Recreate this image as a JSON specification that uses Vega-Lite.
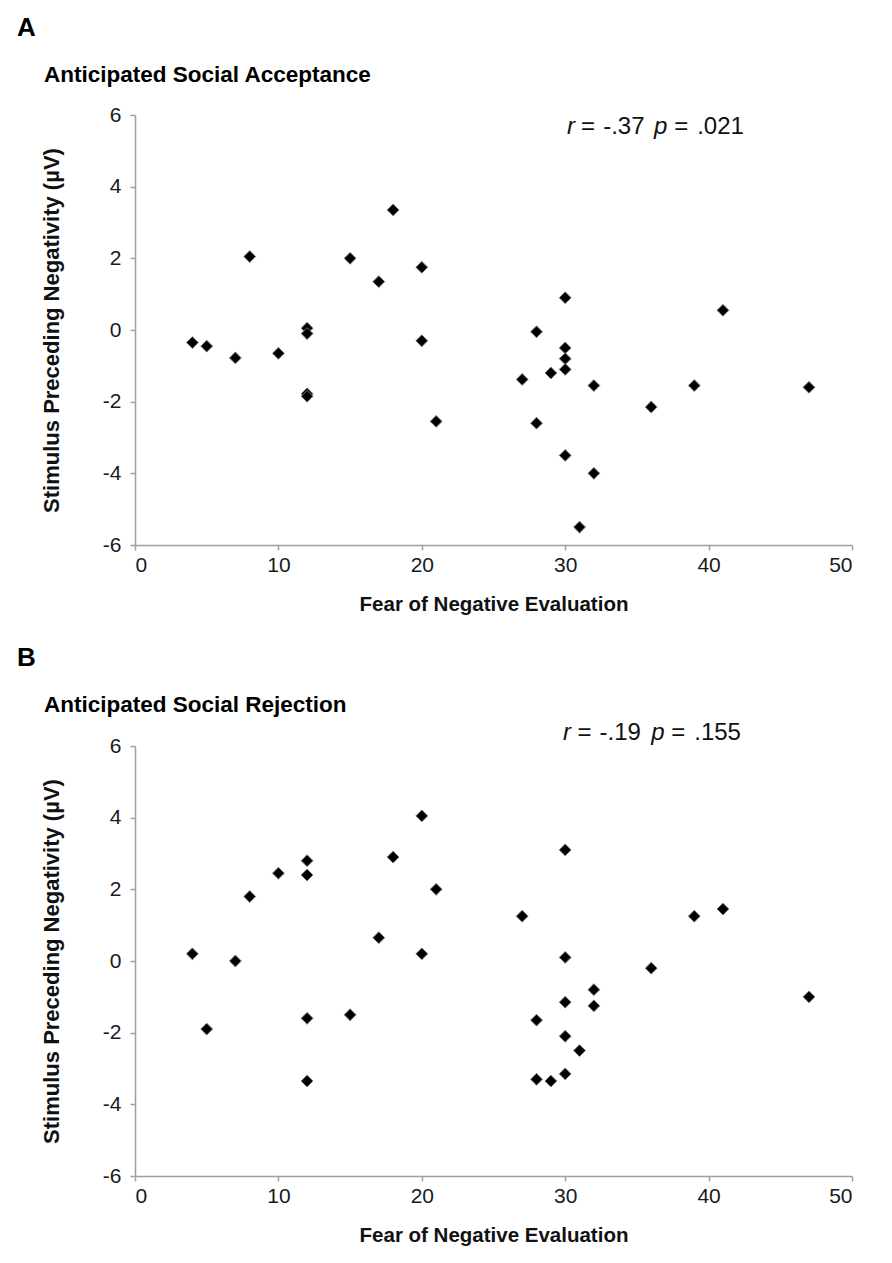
{
  "$schema": "https://vega.github.io/schema/vega-lite/v6.json",
  "background": "white",
  "padding": {"left": 17, "top": 14, "right": 10, "bottom": 10},
  "config": {
    "font": "Liberation Sans",
    "view": {"stroke": null},
    "axis": {
      "grid": false,
      "domainColor": "#a0a0a0",
      "tickColor": "#a0a0a0",
      "domainWidth": 1.5,
      "tickWidth": 1.5,
      "tickSize": 5,
      "labelFont": "Liberation Sans",
      "labelFontSize": 21,
      "labelColor": "#1a1a1a",
      "labelExpr": "'' + datum.value",
      "titleFont": "Liberation Sans",
      "titleFontWeight": "bold",
      "titleColor": "#111"
    },
    "title": {"font": "Liberation Sans", "fontSize": 26, "fontWeight": "bold", "color": "#000", "anchor": "start", "frame": "group"}
  },
  "datasets": {
    "acceptance": [
      {"fne": 4, "spn": -0.35}, {"fne": 5, "spn": -0.45}, {"fne": 7, "spn": -0.78},
      {"fne": 8, "spn": 2.05}, {"fne": 10, "spn": -0.65}, {"fne": 12, "spn": 0.05},
      {"fne": 12, "spn": -0.1}, {"fne": 12, "spn": -1.78}, {"fne": 12, "spn": -1.85},
      {"fne": 15, "spn": 2.0}, {"fne": 17, "spn": 1.35}, {"fne": 18, "spn": 3.35},
      {"fne": 20, "spn": 1.75}, {"fne": 20, "spn": -0.3}, {"fne": 21, "spn": -2.55},
      {"fne": 27, "spn": -1.38}, {"fne": 28, "spn": -0.05}, {"fne": 28, "spn": -2.6},
      {"fne": 29, "spn": -1.2}, {"fne": 30, "spn": 0.9}, {"fne": 30, "spn": -0.5},
      {"fne": 30, "spn": -0.8}, {"fne": 30, "spn": -1.1}, {"fne": 30, "spn": -3.5},
      {"fne": 31, "spn": -5.5}, {"fne": 32, "spn": -1.55}, {"fne": 32, "spn": -4.0},
      {"fne": 36, "spn": -2.15}, {"fne": 39, "spn": -1.55}, {"fne": 41, "spn": 0.55},
      {"fne": 47, "spn": -1.6}
    ],
    "rejection": [
      {"fne": 4, "spn": 0.2}, {"fne": 5, "spn": -1.9}, {"fne": 7, "spn": 0.0},
      {"fne": 8, "spn": 1.8}, {"fne": 10, "spn": 2.45}, {"fne": 12, "spn": 2.8},
      {"fne": 12, "spn": 2.4}, {"fne": 12, "spn": -1.6}, {"fne": 12, "spn": -3.35},
      {"fne": 15, "spn": -1.5}, {"fne": 17, "spn": 0.65}, {"fne": 18, "spn": 2.9},
      {"fne": 20, "spn": 4.05}, {"fne": 20, "spn": 0.2}, {"fne": 21, "spn": 2.0},
      {"fne": 27, "spn": 1.25}, {"fne": 28, "spn": -1.65}, {"fne": 28, "spn": -3.3},
      {"fne": 29, "spn": -3.35}, {"fne": 30, "spn": 3.1}, {"fne": 30, "spn": 0.1},
      {"fne": 30, "spn": -1.15}, {"fne": 30, "spn": -2.1}, {"fne": 30, "spn": -3.15},
      {"fne": 31, "spn": -2.5}, {"fne": 32, "spn": -0.8}, {"fne": 32, "spn": -1.25},
      {"fne": 36, "spn": -0.2}, {"fne": 39, "spn": 1.25}, {"fne": 41, "spn": 1.45},
      {"fne": 47, "spn": -1.0}
    ],
    "one": [{}]
  },
  "spacing": 30,
  "vconcat": [
    {
      "width": 717,
      "height": 430,
      "title": {"text": "A", "dx": -118, "offset": 23},
      "layer": [
        {
          "data": {"name": "acceptance"},
          "mark": {"type": "point", "shape": "diamond", "filled": true, "color": "black", "size": 140, "stroke": "#777", "strokeWidth": 1, "opacity": 1},
          "encoding": {
            "x": {"field": "fne", "type": "quantitative", "title": "Fear of Negative Evaluation",
                  "scale": {"domain": [0, 50], "nice": false, "zero": false},
                  "axis": {"values": [0, 10, 20, 30, 40, 50], "labelFontSize": 21, "labelPadding": 4, "titlePadding": 19, "titleFontSize": 20.5}},
            "y": {"field": "spn", "type": "quantitative", "title": "Stimulus Preceding Negativity (µV)",
                  "scale": {"domain": [-6, 6], "nice": false},
                  "axis": {"values": [-6, -4, -2, 0, 2, 4, 6], "labelFontSize": 21, "labelPadding": 9, "titlePadding": 39, "titleFontSize": 22}}
          }
        },
        {"data": {"name": "one"},
         "mark": {"type": "text", "fontSize": 22.5, "fontWeight": "bold", "align": "left", "baseline": "middle", "color": "#000"},
         "encoding": {"x": {"datum": -6.35}, "y": {"datum": 7.12}, "text": {"value": "Anticipated Social Acceptance"}}},
        {"data": {"name": "one"},
         "mark": {"type": "text", "fontSize": 24, "fontStyle": "italic", "align": "left", "baseline": "middle", "color": "#111"},
         "encoding": {"x": {"datum": 30.13}, "y": {"datum": 5.67}, "text": {"value": "r"}}},
        {"data": {"name": "one"},
         "mark": {"type": "text", "fontSize": 24, "align": "left", "baseline": "middle", "color": "#111"},
         "encoding": {"x": {"datum": 31.1}, "y": {"datum": 5.67}, "text": {"value": "="}}},
        {"data": {"name": "one"},
         "mark": {"type": "text", "fontSize": 24, "align": "left", "baseline": "middle", "color": "#111"},
         "encoding": {"x": {"datum": 32.65}, "y": {"datum": 5.67}, "text": {"value": "-.37"}}},
        {"data": {"name": "one"},
         "mark": {"type": "text", "fontSize": 24, "fontStyle": "italic", "align": "left", "baseline": "middle", "color": "#111"},
         "encoding": {"x": {"datum": 36.2}, "y": {"datum": 5.67}, "text": {"value": "p"}}},
        {"data": {"name": "one"},
         "mark": {"type": "text", "fontSize": 24, "align": "left", "baseline": "middle", "color": "#111"},
         "encoding": {"x": {"datum": 37.6}, "y": {"datum": 5.67}, "text": {"value": "="}}},
        {"data": {"name": "one"},
         "mark": {"type": "text", "fontSize": 24, "align": "left", "baseline": "middle", "color": "#111"},
         "encoding": {"x": {"datum": 39.2}, "y": {"datum": 5.67}, "text": {"value": ".021"}}}
      ]
    },
    {
      "width": 717,
      "height": 430,
      "title": {"text": "B", "dx": -118, "offset": 23},
      "layer": [
        {
          "data": {"name": "rejection"},
          "mark": {"type": "point", "shape": "diamond", "filled": true, "color": "black", "size": 140, "stroke": "#777", "strokeWidth": 1, "opacity": 1},
          "encoding": {
            "x": {"field": "fne", "type": "quantitative", "title": "Fear of Negative Evaluation",
                  "scale": {"domain": [0, 50], "nice": false, "zero": false},
                  "axis": {"values": [0, 10, 20, 30, 40, 50], "labelFontSize": 21, "labelPadding": 4, "titlePadding": 19, "titleFontSize": 20.5}},
            "y": {"field": "spn", "type": "quantitative", "title": "Stimulus Preceding Negativity (µV)",
                  "scale": {"domain": [-6, 6], "nice": false},
                  "axis": {"values": [-6, -4, -2, 0, 2, 4, 6], "labelFontSize": 21, "labelPadding": 9, "titlePadding": 39, "titleFontSize": 22}}
          }
        },
        {"data": {"name": "one"},
         "mark": {"type": "text", "fontSize": 22.5, "fontWeight": "bold", "align": "left", "baseline": "middle", "color": "#000"},
         "encoding": {"x": {"datum": -6.35}, "y": {"datum": 7.14}, "text": {"value": "Anticipated Social Rejection"}}},
        {"data": {"name": "one"},
         "mark": {"type": "text", "fontSize": 24, "fontStyle": "italic", "align": "left", "baseline": "middle", "color": "#111"},
         "encoding": {"x": {"datum": 29.85}, "y": {"datum": 6.36}, "text": {"value": "r"}}},
        {"data": {"name": "one"},
         "mark": {"type": "text", "fontSize": 24, "align": "left", "baseline": "middle", "color": "#111"},
         "encoding": {"x": {"datum": 30.85}, "y": {"datum": 6.36}, "text": {"value": "="}}},
        {"data": {"name": "one"},
         "mark": {"type": "text", "fontSize": 24, "align": "left", "baseline": "middle", "color": "#111"},
         "encoding": {"x": {"datum": 32.4}, "y": {"datum": 6.36}, "text": {"value": "-.19"}}},
        {"data": {"name": "one"},
         "mark": {"type": "text", "fontSize": 24, "fontStyle": "italic", "align": "left", "baseline": "middle", "color": "#111"},
         "encoding": {"x": {"datum": 36.0}, "y": {"datum": 6.36}, "text": {"value": "p"}}},
        {"data": {"name": "one"},
         "mark": {"type": "text", "fontSize": 24, "align": "left", "baseline": "middle", "color": "#111"},
         "encoding": {"x": {"datum": 37.4}, "y": {"datum": 6.36}, "text": {"value": "="}}},
        {"data": {"name": "one"},
         "mark": {"type": "text", "fontSize": 24, "align": "left", "baseline": "middle", "color": "#111"},
         "encoding": {"x": {"datum": 39.0}, "y": {"datum": 6.36}, "text": {"value": ".155"}}}
      ]
    }
  ]
}
